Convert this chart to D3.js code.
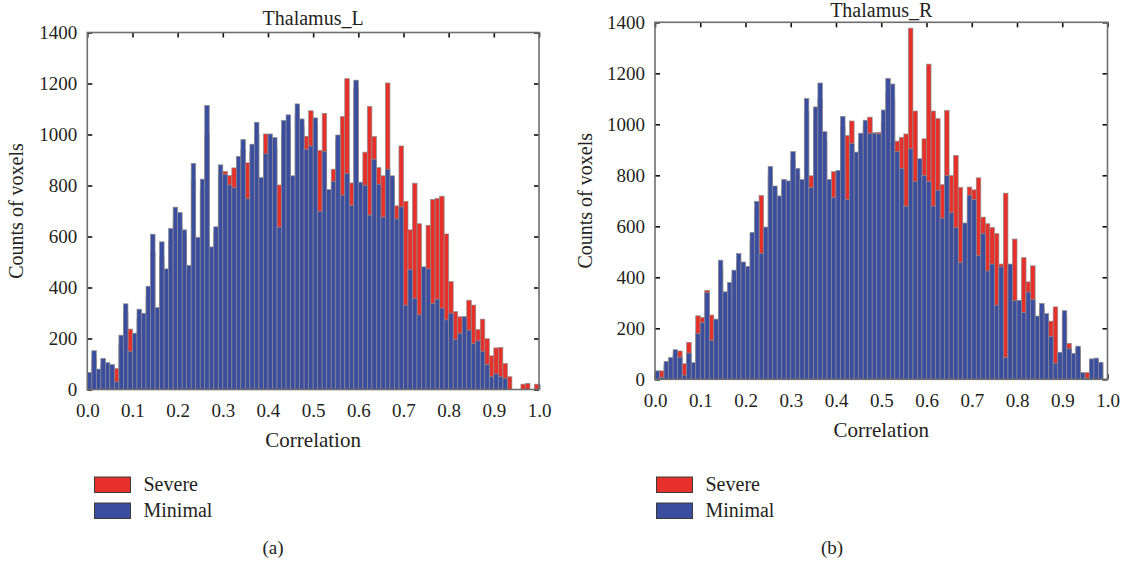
<!DOCTYPE html>
<html>
<head>
<meta charset="utf-8">
<script src="https://cdn.jsdelivr.net/npm/d3@7"></script>
<style>
  html, body { margin: 0; padding: 0; background: #fff; }
  svg { display: block; }
  text { font-family: "Liberation Serif", "Times New Roman", serif; fill: #231f20; }
</style>
</head>
<body>
<svg id="chart" width="1128" height="563"></svg>
<script>
// ---------- data ----------
const binWidth = 0.01;
const xTicks = [0, 0.1, 0.2, 0.3, 0.4, 0.5, 0.6, 0.7, 0.8, 0.9, 1.0];
const yTicks = [0, 200, 400, 600, 800, 1000, 1200, 1400];
const seriesNames = ["Severe", "Minimal"];
const panelTitles = ["Thalamus_L", "Thalamus_R"];
const panelCaptions = ["(a)", "(b)"];

const leftMinimal = [67,152,80,122,105,98,30,213,336,150,221,315,299,405,609,321,579,473,631,715,
  694,626,487,887,597,825,1114,559,638,881,844,802,791,914,980,748,962,1048,831,924,
  1002,988,637,1055,1077,838,1120,1061,942,955,1065,699,934,784,816,998,762,847,721,1213,
  813,801,684,903,805,676,864,838,669,716,331,470,358,293,481,473,338,354,319,273,
  299,196,220,285,233,180,191,150,98,50,61,50,44,0,0,0,0,0,0,0];
const leftSevere = [50,120,70,100,90,85,82,180,300,237,200,280,260,360,540,300,520,440,580,660,
  640,600,460,820,570,780,1000,530,610,840,855,839,869,880,940,889,930,1000,800,1002,
  960,950,802,1010,1030,820,1080,1030,993,1093,1040,938,1083,770,864,980,1070,1219,810,1180,
  800,931,1110,992,870,838,1202,820,720,955,738,626,809,650,470,644,745,749,758,610,
  423,305,285,285,350,331,235,276,199,132,163,165,102,50,0,0,21,24,0,21];

const rightMinimal = [33,8,70,85,116,87,16,103,65,180,223,340,153,236,467,343,380,428,493,460,
  443,576,698,494,597,835,758,719,784,778,893,827,784,1101,752,1068,1162,971,784,713,
  819,1031,705,925,891,965,1016,965,965,962,1056,1180,1158,893,827,679,904,776,865,799,
  775,679,741,632,799,653,595,458,613,722,705,486,571,425,452,291,441,85,452,308,
  310,262,342,313,248,297,258,167,63,106,269,120,102,130,26,5,80,83,67,0];
const rightSevere = [20,33,55,70,100,111,61,145,50,249,243,349,252,210,430,320,350,400,460,430,
  420,540,660,721,570,800,720,690,750,750,860,800,760,1050,798,1020,1100,930,760,814,
  800,990,956,1013,870,940,990,1028,967,968,1010,1120,1100,934,949,962,1377,1052,840,943,
  1236,1052,1022,763,1054,799,878,752,590,754,743,790,636,610,595,571,452,730,430,550,
  290,477,382,445,230,280,240,228,284,95,250,141,90,120,20,26,70,75,60,0];

// ---------- style ----------
const colors = { Severe: "#e8302a", Minimal: "#3b4d9f" };
const barStroke = "#8d8d8d";
const frameColor = "#6e6e6e";

const svg = d3.select("#chart");

function drawPanel(cfg) {
  const g = svg.append("g").attr("transform", `translate(${cfg.left},${cfg.top})`);
  const x = d3.scaleLinear().domain([0, 1]).range([0, cfg.width]);
  const y = d3.scaleLinear().domain([0, 1400]).range([cfg.height, 0]);

  const tickLen = -5;
  const axL = g.append("g").call(d3.axisLeft(y).tickValues(yTicks).tickSize(tickLen).tickPadding(10).tickFormat(d3.format("d")));
  const axR = g.append("g").attr("transform", `translate(${cfg.width},0)`)
    .call(d3.axisRight(y).tickValues(yTicks).tickSize(tickLen).tickFormat(""));
  const axT = g.append("g").call(d3.axisTop(x).tickValues(xTicks).tickSize(tickLen).tickFormat(""));
  const axB = g.append("g").attr("transform", `translate(0,${cfg.height})`)
    .call(d3.axisBottom(x).tickValues(xTicks).tickSize(tickLen).tickPadding(14).tickFormat(d3.format(".1f")));
  [axL, axR, axT, axB].forEach(a => {
    a.select(".domain").remove();
    a.selectAll(".tick line").attr("stroke", "#111").attr("stroke-width", 1.6);
    a.selectAll(".tick text").style("font-size", "19px").attr("fill", "#231f20")
      .style("font-family", "'Liberation Serif', serif");
  });

  const bins = cfg.minimal.map((m, i) => ({ x0: i * binWidth, severe: cfg.severe[i], minimal: m }));
  const bw = x(binWidth) - x(0);

  g.append("g").selectAll("rect").data(bins.filter(d => d.severe > 0)).join("rect")
    .attr("x", d => x(d.x0)).attr("width", bw)
    .attr("y", d => y(d.severe)).attr("height", d => y(0) - y(d.severe))
    .attr("fill", colors.Severe).attr("stroke", barStroke).attr("stroke-width", 0.7);
  g.append("g").selectAll("rect").data(bins.filter(d => d.minimal > 0)).join("rect")
    .attr("x", d => x(d.x0)).attr("width", bw)
    .attr("y", d => y(d.minimal)).attr("height", d => y(0) - y(d.minimal))
    .attr("fill", colors.Minimal).attr("stroke", barStroke).attr("stroke-width", 0.7);

  g.append("rect").attr("x", 0).attr("y", 0).attr("width", cfg.width).attr("height", cfg.height)
    .attr("fill", "none").attr("stroke", frameColor).attr("stroke-width", 1.6);

  g.append("text").attr("x", cfg.width / 2).attr("y", cfg.titleY)
    .attr("text-anchor", "middle").style("font-size", "20px").text(cfg.title);
  g.append("text").attr("x", cfg.width / 2).attr("y", cfg.height + cfg.xLabelDy)
    .attr("text-anchor", "middle").style("font-size", "21px").text("Correlation");
  g.append("text").attr("transform", `translate(${cfg.yLabelX},${cfg.height / 2}) rotate(-90)`)
    .attr("text-anchor", "middle").style("font-size", "20px").text("Counts of voxels");

  const lg = svg.append("g").attr("transform", `translate(${cfg.legendX},${cfg.legendY})`);
  seriesNames.forEach((name, i) => {
    lg.append("rect").attr("x", 0).attr("y", i * 26).attr("width", 36).attr("height", 15.5)
      .attr("fill", colors[name]).attr("stroke", "#3a3a3a").attr("stroke-width", 1);
    lg.append("text").attr("x", 49).attr("y", i * 26 + 14).style("font-size", "20px").text(name);
  });

  svg.append("text").attr("x", cfg.captionX).attr("y", 554).attr("text-anchor", "middle")
    .style("font-size", "19px").text(cfg.caption);
}

drawPanel({ left: 87.3, top: 32.5, width: 451.7, height: 357, title: panelTitles[0], titleY: -8,
  xLabelDy: 57, yLabelX: -64,
  minimal: leftMinimal, severe: leftSevere, legendX: 94.5, legendY: 477, captionX: 273, caption: panelCaptions[0] });
drawPanel({ left: 655, top: 22.3, width: 452.5, height: 357, title: panelTitles[1], titleY: -5,
  xLabelDy: 58, yLabelX: -63,
  minimal: rightMinimal, severe: rightSevere, legendX: 656.5, legendY: 477, captionX: 832, caption: panelCaptions[1] });
</script>
</body>
</html>
